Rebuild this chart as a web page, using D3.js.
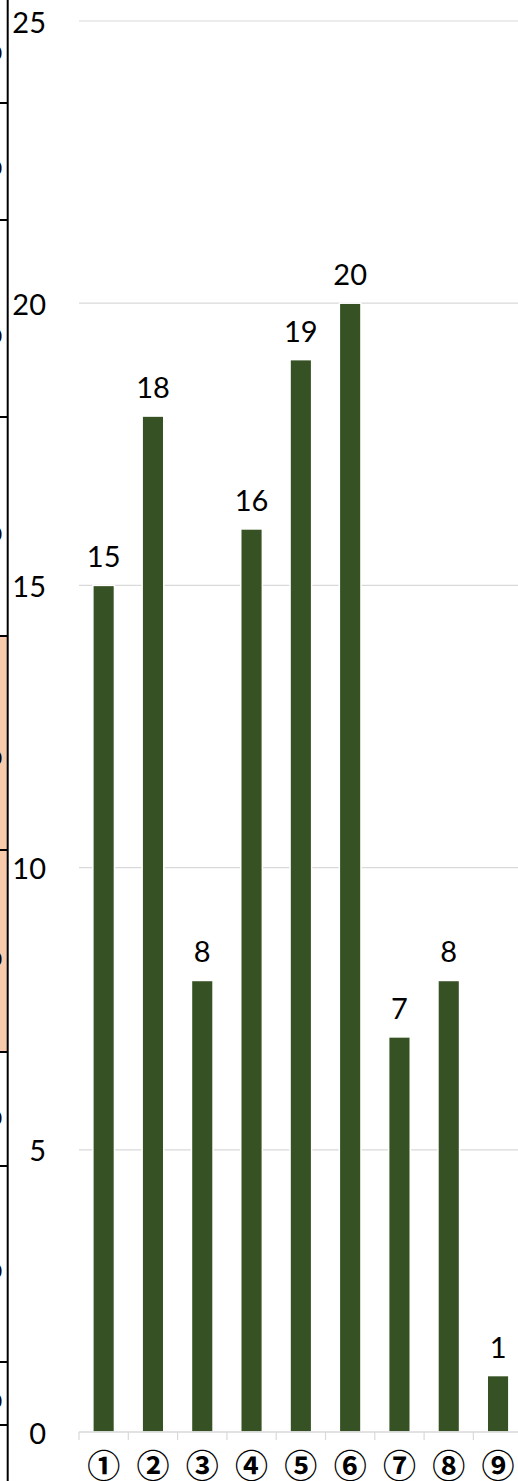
<!DOCTYPE html>
<html>
<head>
<meta charset="utf-8">
<script src="https://cdn.jsdelivr.net/npm/d3@7"></script>
<style>
  html, body { margin: 0; padding: 0; background: #fff; }
  svg { display: block; }
</style>
</head>
<body>
<svg id="chart" width="518" height="1481"></svg>
<script>
// Counts per item
const categories = ["①", "②", "③", "④", "⑤", "⑥", "⑦", "⑧", "⑨"];
const values = [15, 18, 8, 16, 19, 20, 7, 8, 1];
const yTicks = [0, 5, 10, 15, 20, 25];

const W = 518, H = 1481;
const svg = d3.select("#chart");

// Spreadsheet edge showing at the left margin (row borders, shaded block, clipped cell text)
const sheet = svg.append("g");
const rowBorders = [103, 220, 417, 636, 850, 1052, 1166, 1362, 1425];
const cellTextY = [52, 167, 335, 533, 757, 958, 1117, 1270, 1400];
sheet.append("rect").attr("x", 0).attr("y", 636).attr("width", 7).attr("height", 1052 - 636)
  .attr("fill", "#f8cbad");
sheet.selectAll("line.row").data(rowBorders).join("line")
  .attr("x1", 0).attr("x2", 8).attr("y1", d => d).attr("y2", d => d)
  .attr("stroke", "#000").attr("stroke-width", 2);
sheet.append("line").attr("x1", 7.7).attr("x2", 7.7).attr("y1", 0).attr("y2", H)
  .attr("stroke", "#000").attr("stroke-width", 2);
sheet.selectAll("text").data(cellTextY).join("text")
  .attr("x", 2).attr("y", d => d).attr("text-anchor", "end")
  .attr("dominant-baseline", "central")
  .attr("font-family", "Lato, 'Open Sans', sans-serif").attr("font-size", 20)
  .attr("fill", "#000").text("0");

// Plot area
const x0 = 79, step = 49.3;
const x = d3.scaleBand().domain(categories).range([x0, x0 + step * categories.length])
  .paddingInner(0.562).paddingOuter(0.281);
const y = d3.scaleLinear().domain([0, 25]).range([1432, 21]);

const font = "Lato, 'Open Sans', sans-serif";

// Gridlines
svg.append("g").selectAll("line").data(yTicks.filter(t => t > 0)).join("line")
  .attr("x1", x0).attr("x2", x0 + step * categories.length)
  .attr("y1", d => y(d)).attr("y2", d => y(d))
  .attr("stroke", "#d9d9d9").attr("stroke-width", 1.2);

// Y tick labels
svg.append("g").selectAll("text").data(yTicks).join("text")
  .attr("x", 46).attr("y", d => y(d)).attr("text-anchor", "end")
  .attr("dominant-baseline", "central")
  .attr("font-family", font).attr("font-size", 29).attr("fill", "#000")
  .text(d => d);

// Bars
svg.append("g").selectAll("rect").data(values).join("rect")
  .attr("x", (d, i) => x(categories[i]))
  .attr("y", d => y(d))
  .attr("width", x.bandwidth())
  .attr("height", d => y(0) - y(d))
  .attr("fill", "#365123")
  .attr("stroke", "#fff").attr("stroke-width", 1.5);

// Value labels
svg.append("g").selectAll("text").data(values).join("text")
  .attr("x", (d, i) => x(categories[i]) + x.bandwidth() / 2)
  .attr("y", d => y(d) - 18)
  .attr("text-anchor", "middle")
  .attr("font-family", font).attr("font-size", 29).attr("fill", "#000")
  .text(d => d);

// X axis
const xAxis = svg.append("g");
xAxis.append("line").attr("x1", x0).attr("x2", x0 + step * categories.length)
  .attr("y1", y(0)).attr("y2", y(0)).attr("stroke", "#d9d9d9").attr("stroke-width", 1.5);
xAxis.selectAll("line.tick").data(d3.range(categories.length + 1)).join("line")
  .attr("class", "tick")
  .attr("x1", i => x0 + step * i).attr("x2", i => x0 + step * i)
  .attr("y1", y(0)).attr("y2", y(0) + 8)
  .attr("stroke", "#d9d9d9").attr("stroke-width", 1.2);
xAxis.selectAll("text").data(categories).join("text")
  .attr("x", d => x(d) + x.bandwidth() / 2)
  .attr("y", 1464)
  .attr("text-anchor", "middle").attr("dominant-baseline", "central")
  .attr("font-family", "'Noto Sans CJK JP', 'DejaVu Sans', sans-serif")
  .attr("font-weight", 700).attr("font-size", 33).attr("fill", "#000")
  .text(d => d);
</script>
</body>
</html>
